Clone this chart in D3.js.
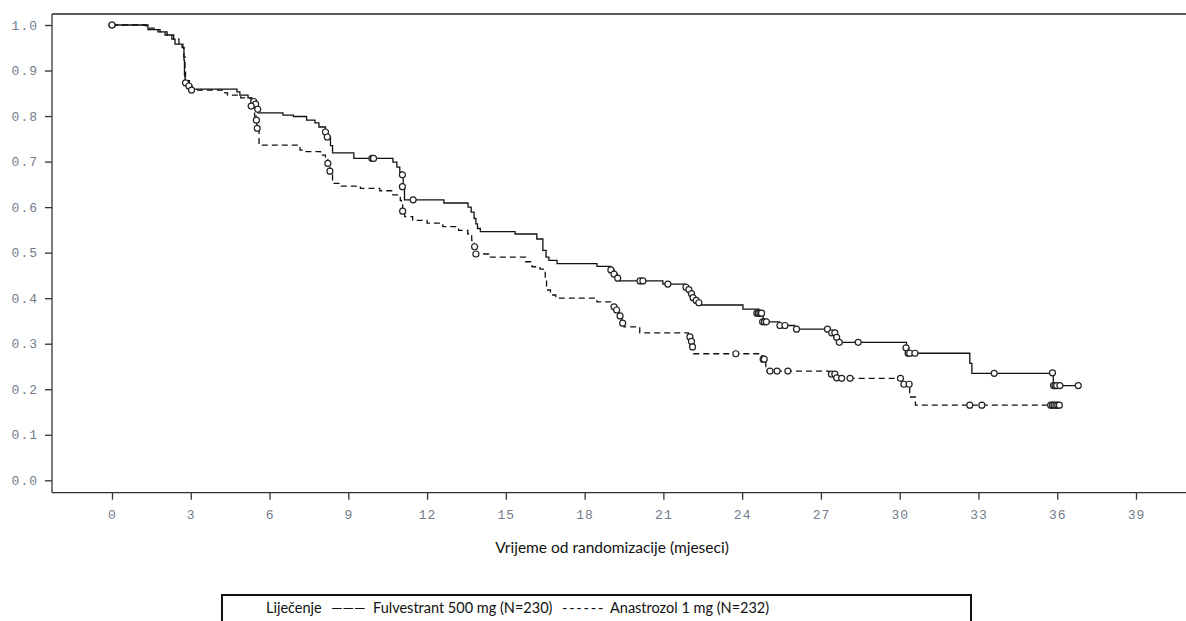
<!DOCTYPE html>
<html>
<head>
<meta charset="utf-8">
<script src="https://cdn.jsdelivr.net/npm/d3@7"></script>
<style>
  body { margin: 0; background: #fff; }
  svg { display: block; }
</style>
</head>
<body>
<svg id="km"></svg>
<script>
// Kaplan-Meier steps: [months, survival]
var fulvestrantSteps = [[0,1.0],[1.37,0.990],[1.83,0.985],[2.02,0.978],[2.28,0.969],[2.40,0.958],[2.67,0.951],[2.74,0.923],[2.76,0.89],[2.78,0.875],[2.89,0.866],[2.97,0.859],[4.76,0.853],[4.87,0.846],[5.18,0.840],[5.33,0.833],[5.48,0.826],[5.56,0.807],[6.51,0.802],[6.91,0.799],[7.41,0.791],[7.73,0.785],[7.88,0.776],[8.13,0.765],[8.20,0.754],[8.32,0.735],[8.40,0.719],[9.21,0.707],[10.70,0.699],[10.85,0.688],[10.96,0.677],[11.05,0.671],[11.09,0.645],[11.14,0.616],[12.64,0.609],[13.56,0.600],[13.68,0.589],[13.79,0.575],[13.86,0.563],[13.92,0.553],[14.03,0.546],[15.35,0.541],[16.18,0.530],[16.41,0.505],[16.53,0.490],[16.64,0.483],[16.95,0.476],[18.47,0.470],[18.99,0.462],[19.12,0.453],[19.25,0.444],[19.35,0.438],[20.98,0.431],[21.85,0.424],[21.95,0.419],[22.04,0.410],[22.10,0.401],[22.22,0.395],[22.30,0.390],[22.36,0.385],[24.03,0.376],[24.64,0.367],[24.80,0.348],[25.42,0.340],[26.00,0.332],[27.36,0.324],[27.51,0.314],[27.60,0.303],[30.26,0.291],[30.35,0.279],[32.67,0.257],[32.75,0.235],[35.85,0.208],[36.80,0.208]]

var anastrozolSteps = [[0,1.0],[1.30,0.993],[1.75,0.985],[2.10,0.978],[2.35,0.969],[2.55,0.958],[2.70,0.950],[2.74,0.930],[2.78,0.900],[2.80,0.878],[2.95,0.866],[3.05,0.857],[4.30,0.851],[4.40,0.846],[4.90,0.840],[5.30,0.830],[5.36,0.822],[5.43,0.800],[5.50,0.791],[5.52,0.773],[5.60,0.736],[7.16,0.725],[7.35,0.722],[7.94,0.714],[8.13,0.705],[8.22,0.696],[8.30,0.679],[8.40,0.652],[8.68,0.646],[9.46,0.641],[10.20,0.636],[10.70,0.627],[10.98,0.615],[11.02,0.605],[11.07,0.591],[11.15,0.579],[11.45,0.571],[12.00,0.565],[12.60,0.557],[13.20,0.549],[13.55,0.541],[13.70,0.527],[13.80,0.513],[13.86,0.497],[14.35,0.490],[15.75,0.480],[16.00,0.469],[16.30,0.464],[16.50,0.440],[16.55,0.418],[16.70,0.407],[16.90,0.400],[18.47,0.392],[19.08,0.381],[19.20,0.374],[19.30,0.361],[19.42,0.345],[19.50,0.337],[20.10,0.324],[21.95,0.315],[22.05,0.305],[22.10,0.293],[22.15,0.278],[24.76,0.266],[24.90,0.240],[27.30,0.233],[27.50,0.224],[30.10,0.211],[30.38,0.183],[30.60,0.165],[36.10,0.165]]

// censored observations (little circles)
var fulvestrantCensored = [[0,1.0],[2.80,0.873],[2.93,0.866],[5.40,0.832],[5.47,0.826],[5.55,0.815],[8.13,0.765],[8.20,0.754],[9.90,0.707],[9.96,0.707],[11.06,0.671],[11.06,0.645],[11.47,0.616],[19.00,0.462],[19.12,0.453],[19.26,0.444],[20.11,0.438],[20.22,0.438],[21.17,0.431],[21.86,0.424],[21.97,0.419],[22.07,0.410],[22.13,0.401],[22.25,0.395],[22.35,0.390],[24.56,0.367],[24.62,0.367],[24.68,0.367],[24.74,0.367],[24.78,0.348],[24.85,0.348],[24.92,0.348],[25.44,0.340],[25.63,0.340],[26.07,0.332],[27.25,0.332],[27.41,0.324],[27.53,0.324],[27.60,0.314],[27.70,0.303],[28.42,0.303],[30.24,0.291],[30.32,0.279],[30.38,0.279],[30.58,0.279],[33.60,0.235],[35.82,0.236],[35.86,0.208],[35.92,0.208],[35.98,0.208],[36.10,0.208],[36.80,0.208]]

var anastrozolCensored = [[0,1.0],[3.03,0.857],[5.30,0.822],[5.50,0.791],[5.53,0.773],[8.22,0.696],[8.30,0.679],[11.07,0.591],[13.81,0.513],[13.86,0.497],[19.12,0.381],[19.22,0.374],[19.35,0.361],[19.45,0.345],[22.01,0.315],[22.07,0.305],[22.11,0.293],[23.76,0.278],[24.80,0.266],[24.84,0.266],[25.06,0.240],[25.33,0.240],[25.74,0.240],[27.40,0.233],[27.53,0.233],[27.60,0.225],[27.79,0.224],[28.11,0.224],[30.03,0.224],[30.16,0.211],[30.36,0.211],[32.67,0.165],[33.13,0.165],[35.75,0.165],[35.82,0.165],[35.88,0.165],[35.95,0.165],[36.02,0.165],[36.08,0.165]]

var xTicks = d3.range(0, 40, 3)
var yTicks = [0, 0.1, 0.2, 0.3, 0.4, 0.5, 0.6, 0.7, 0.8, 0.9, 1.0]

var xTitle = "Vrijeme od randomizacije (mjeseci)"
var legendTitle = "Liječenje"
var seriesNames = ["Fulvestrant 500 mg (N=230)", "Anastrozol 1 mg (N=232)"]

var dimensions = {
    width: 1186,
    height: 621,
    margin: { top: 14, left: 52, bottom: 129 }
}
var axisY = dimensions.height - dimensions.margin.bottom + 0.7

var svg = d3.select("#km")
            .attr("width", dimensions.width)
            .attr("height", dimensions.height)

var xScale = d3.scaleLinear()
               .domain([0, 39])
               .range([112, 1136])

var yScale = d3.scaleLinear()
               .domain([0, 1])
               .range([480.3, 25])

// frame: top rule, left axis, bottom axis
svg.append("line")
   .attr("x1", dimensions.margin.left).attr("x2", dimensions.width)
   .attr("y1", dimensions.margin.top).attr("y2", dimensions.margin.top)
   .style("stroke", "#222").style("stroke-width", 1.3)
svg.append("line")
   .attr("x1", dimensions.margin.left).attr("x2", dimensions.margin.left)
   .attr("y1", dimensions.margin.top).attr("y2", axisY)
   .style("stroke", "#333").style("stroke-width", 1.3)
svg.append("line")
   .attr("x1", dimensions.margin.left).attr("x2", dimensions.width)
   .attr("y1", axisY).attr("y2", axisY)
   .style("stroke", "#333").style("stroke-width", 1.3)

var xAxisgen = d3.axisBottom(xScale).tickValues(xTicks).tickSize(7).tickPadding(10)
var yAxisgen = d3.axisLeft(yScale).tickValues(yTicks).tickSize(7).tickPadding(7).tickFormat(d3.format(".1f"))

var xAxis = svg.append("g")
               .attr("transform", `translate(0,${axisY})`)
               .call(xAxisgen)
var yAxis = svg.append("g")
               .attr("transform", `translate(${dimensions.margin.left},0)`)
               .call(yAxisgen)

svg.selectAll(".domain").remove()
svg.selectAll(".tick line").style("stroke", "#333").style("stroke-width", 1.3)
svg.selectAll(".tick text")
   .style("font-family", "'Liberation Mono', monospace")
   .style("font-size", "13px")
   .style("letter-spacing", "1px")
   .style("fill", "#737b8c")

var line = d3.line()
             .x(d => xScale(d[0]))
             .y(d => yScale(d[1]))
             .curve(d3.curveStepAfter)

svg.append("path")
   .datum(anastrozolSteps)
   .attr("d", line)
   .style("fill", "none")
   .style("stroke", "#111")
   .style("stroke-width", 1.3)
   .style("stroke-dasharray", "6,4")

svg.append("path")
   .datum(fulvestrantSteps)
   .attr("d", line)
   .style("fill", "none")
   .style("stroke", "#111")
   .style("stroke-width", 1.3)

var censored = fulvestrantCensored.concat(anastrozolCensored)
svg.selectAll("circle.cens")
   .data(censored)
   .enter()
   .append("circle")
   .attr("class", "cens")
   .attr("cx", d => xScale(d[0]))
   .attr("cy", d => yScale(d[1]))
   .attr("r", 3)
   .style("fill", "#fff")
   .style("stroke", "#222")
   .style("stroke-width", 1.2)

// axis title
svg.append("text")
   .attr("x", 612)
   .attr("y", 553)
   .attr("text-anchor", "middle")
   .style("font-family", "Lato, sans-serif")
   .style("font-size", "15.5px")
   .style("fill", "#111")
   .text(xTitle)

// legend box (runs off the bottom of the picture)
svg.append("rect")
   .attr("x", 222).attr("y", 595)
   .attr("width", 749).attr("height", 40)
   .style("fill", "none")
   .style("stroke", "#111")
   .style("stroke-width", 2)

var legend = svg.append("g")
                .style("font-family", "Lato, sans-serif")
                .style("font-size", "14.5px")
                .style("fill", "#111")
legend.append("text").attr("x", 266).attr("y", 613).text(legendTitle)
legend.append("text").attr("x", 331).attr("y", 613).text("———")
legend.append("text").attr("x", 373).attr("y", 613).text(seriesNames[0])
legend.append("text").attr("x", 562).attr("y", 613).style("letter-spacing", "1.8px").text("------")
legend.append("text").attr("x", 610).attr("y", 613).text(seriesNames[1])
</script>
</body>
</html>
